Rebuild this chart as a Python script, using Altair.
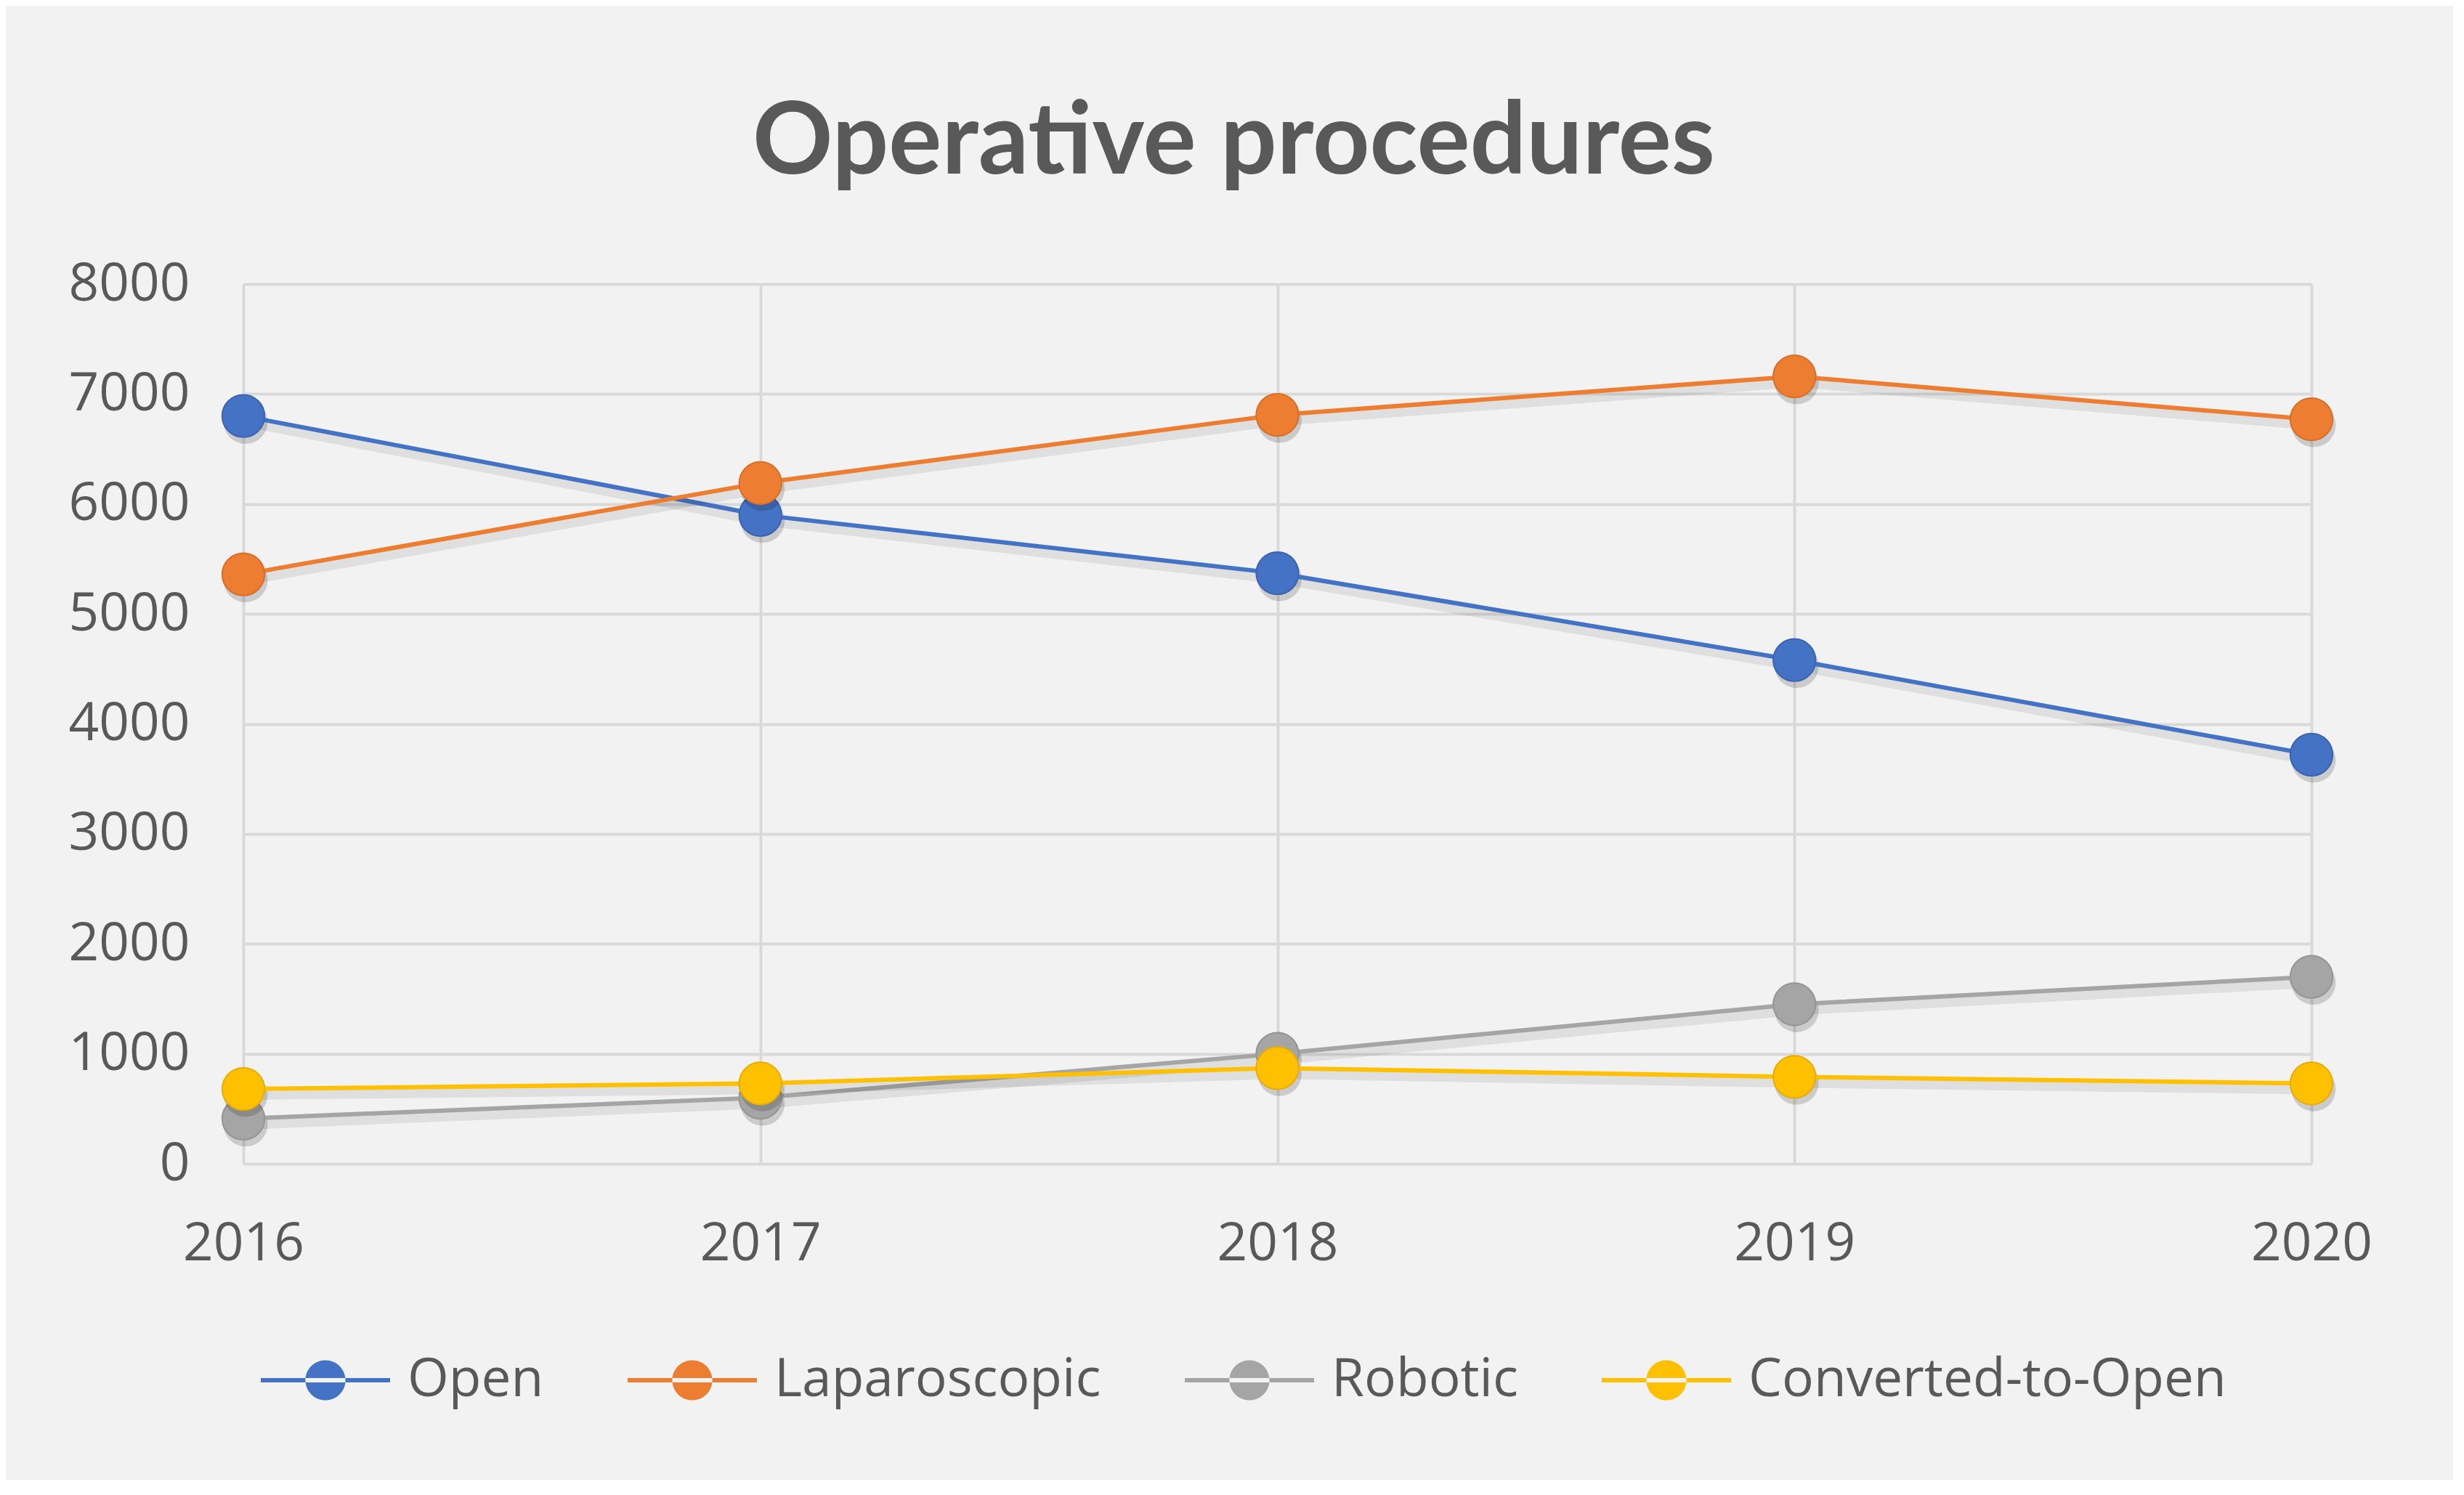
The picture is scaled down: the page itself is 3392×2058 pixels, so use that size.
import altair as alt
import pandas as pd

years = ["2016", "2017", "2018", "2019", "2020"]
series_names = ["Open", "Laparoscopic", "Robotic", "Converted-to-Open"]
open_vals = [6800, 5900, 5370, 4580, 3720]
lap_vals = [5360, 6190, 6810, 7160, 6770]
robotic_vals = [410, 600, 1000, 1450, 1700]
converted_vals = [680, 730, 870, 790, 730]
colors = ["#4472C4", "#ED7D31", "#A5A5A5", "#FFC000"]
edge_colors = ["#3a64b0", "#d66f28", "#959595", "#e6ad00"]
y_ticks = [0, 1000, 2000, 3000, 4000, 5000, 6000, 7000, 8000]

values_by_series = [open_vals, lap_vals, robotic_vals, converted_vals]
rows = []
for name, vals in zip(series_names, values_by_series):
    for yr, v in zip(years, vals):
        rows.append({"year": yr, "series": name, "value": v})
df = pd.DataFrame(rows)

x_enc = alt.X(
    "year:O",
    sort=years,
    scale=alt.Scale(type="point", padding=0),
    axis=alt.Axis(title=None, labelAngle=0, ticks=False, domain=False,
                  grid=True, labelPadding=74),
)
y_enc = alt.Y(
    "value:Q",
    scale=alt.Scale(domain=[0, 8000], nice=False),
    axis=alt.Axis(title=None, values=y_ticks, ticks=False, domain=False,
                  grid=True, labelPadding=74, format="d"),
)

legend_symbol = (
    "M -1 -0.035 L 1 -0.035 L 1 0.035 L -1 0.035 Z "
    "M -0.31 0 A 0.31 0.31 0 1 0 0.31 0 A 0.31 0.31 0 1 0 -0.31 0 Z"
)

color_enc = alt.Color(
    "series:N",
    scale=alt.Scale(domain=series_names, range=colors),
    legend=alt.Legend(
        title=None,
        orient="none",
        legendX=24,
        legendY=1420,
        direction="horizontal",
        columns=4,
        columnPadding=115,
        symbolType=legend_symbol,
        symbolSize=31684,
        symbolStrokeWidth=0,
        labelOffset=24,
        labelFont="Open Sans",
        labelFontSize=73,
        labelColor="#595959",
        labelLimit=0,
    ),
)

base = alt.Chart(df)
layers = []
for name, col, edge in zip(series_names, colors, edge_colors):
    sub = base.transform_filter(alt.datum.series == name)
    shadow_line = sub.mark_line(
        color="#000000", opacity=0.08, strokeWidth=14, xOffset=3, yOffset=8
    ).encode(x=x_enc, y=y_enc)
    shadow_pts = sub.mark_circle(
        color="#000000", opacity=0.16, size=3700, xOffset=3, yOffset=8
    ).encode(x=x_enc, y=y_enc)
    line = sub.mark_line(color=col, strokeWidth=6).encode(x=x_enc, y=y_enc)
    pts = sub.mark_point(
        filled=True, shape="circle", size=3400, opacity=1,
        stroke=edge, strokeWidth=2
    ).encode(x=x_enc, y=y_enc, color=color_enc)
    layers += [shadow_line, shadow_pts, line, pts]

chart = alt.layer(*layers).properties(
    width=2847,
    height=1211,
    autosize=alt.AutoSizeParams(type="none"),
    padding={"left": 327, "top": 383, "right": 195, "bottom": 435},
    title=alt.TitleParams(
        text="Operative procedures",
        font="Lato",
        fontSize=137,
        fontWeight="bold",
        color="#595959",
        anchor="middle",
        frame="group",
        dx=-60,
        offset=87,
    ),
).configure(
    background="#f2f2f2",
).configure_view(
    stroke="transparent",
).configure_axis(
    gridColor="#d9d9d9",
    gridWidth=4,
    labelFont="Open Sans",
    labelFontSize=73,
    labelColor="#595959",
)

chart.save("out.html", embed_options={"renderer": "svg", "actions": False})
